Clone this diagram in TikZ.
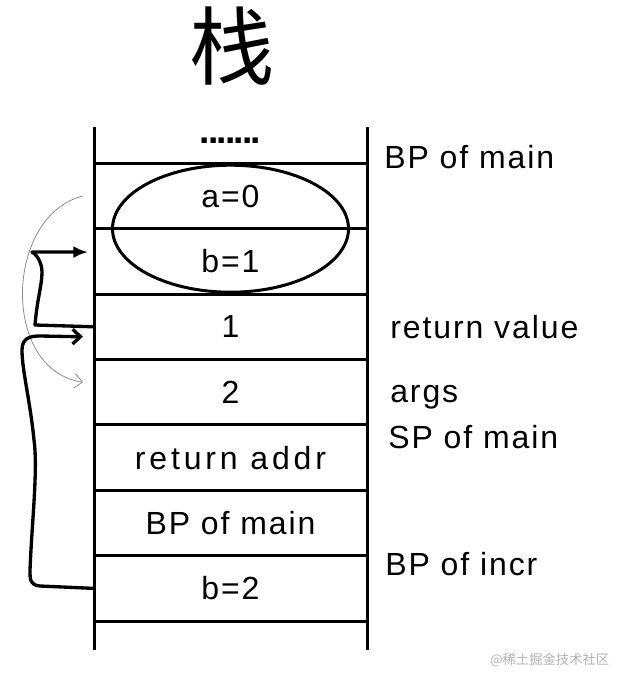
\documentclass[tikz,border=0pt]{standalone}
\usepackage{fontspec}
\setmainfont[LetterSpace=6]{Liberation Sans}
\newfontfamily\cjk{Noto Sans CJK SC}
\usetikzlibrary{shapes, arrows.meta, positioning, calc}

\begin{document}
\begin{tikzpicture}[
    x=0.75pt, y=0.75pt,
    node distance=49.05pt,
    >={Straight Barb[length=6pt, width=11pt]},
    cell/.style={rectangle, draw, line width=2.25pt, outer sep=0pt, inner sep=0pt, minimum width=204.75pt, minimum height=49.05pt, font=\fontsize{24}{28}\selectfont},
    note/.style={anchor=base west, inner sep=0pt, font=\fontsize{24}{28}\selectfont},
    wall/.style={draw, line width=2.25pt},
    link/.style={draw, ->, line width=2.5pt, line cap=round, line join=round},
    hint/.style={draw, ->, line width=0.6pt, gray!90}
]

    \useasboundingbox (0,0) rectangle (633,-685);

    % Title
    \node [font=\cjk\fontsize{64}{70}\selectfont] (title) at (232,-46) {栈};

    % Stack cells
    \node [cell] (a0) at (230.5,-196) {a=0};
    \node [cell, below of=a0] (b1) {b=1};
    \node [cell, below of=b1] (one) {1};
    \node [cell, below of=one] (two) {2};
    \node [cell, below of=two] (ret) {\addfontfeature{LetterSpace=12}return addr};
    \node [cell, below of=ret] (bpm) {BP of main};
    \node [cell, below of=bpm] (b2) {b=2};

    % open ends of the stack
    \path [wall] (a0.north west) -- ++(0,36) (a0.north east) -- ++(0,36);
    \path [wall] (b2.south west) -- ++(0,-29) (b2.south east) -- ++(0,-29);
    \node [font=\bfseries\fontsize{28}{30}\selectfont\addfontfeature{LetterSpace=-5}] (dots) at (230.5,-141) {.......};

    % a and b of main
    \node [draw, ellipse, line width=2.25pt, minimum width=177pt, minimum height=95.25pt] (pair) at ($(a0)!0.5!(b1)$) {};

    % Labels
    \node [note] (lbpmain) at (384,-168) {BP of main};
    \node [note] (lret) at (390,-338) {return value};
    \node [note] (largs) at (390,-402) {args};
    \node [note] (lsp) at (388,-448) {SP of main};
    \node [note] (lbpincr) at (385,-575) {BP of incr};

    \node [font=\cjk\fontsize{10}{12}\selectfont, text=gray!60, anchor=east] (mark) at (614,-660) {@稀土掘金技术社区};

    % Connections
    \path [hint] ([xshift=-8.25pt]a0.west) .. controls (5,-215) and (0,-370) .. ([shift={(-8.25pt,7.5pt)}]two.west);

    \path [link, -{Latex[length=11pt, width=9pt]}] (one.west) -- (35,-325)
        .. controls (37,-300) and (42,-285) .. (42,-272)
        .. controls (42,-262) and (36,-254) .. (32,-252)
        -- ([shift={(-4.5pt,7pt)}]b1.west);

    \path [link] (b2.west) -- (40,-586)
        .. controls (30,-585) and (30,-580) .. (30,-570)
        .. controls (32,-520) and (38,-470) .. (34,-440)
        .. controls (30,-400) and (22,-370) .. (22,-350)
        .. controls (22,-338) and (30,-336) .. (40,-336)
        -- ([shift={(-8.25pt,-7.5pt)}]one.west);

\end{tikzpicture}
\end{document}
